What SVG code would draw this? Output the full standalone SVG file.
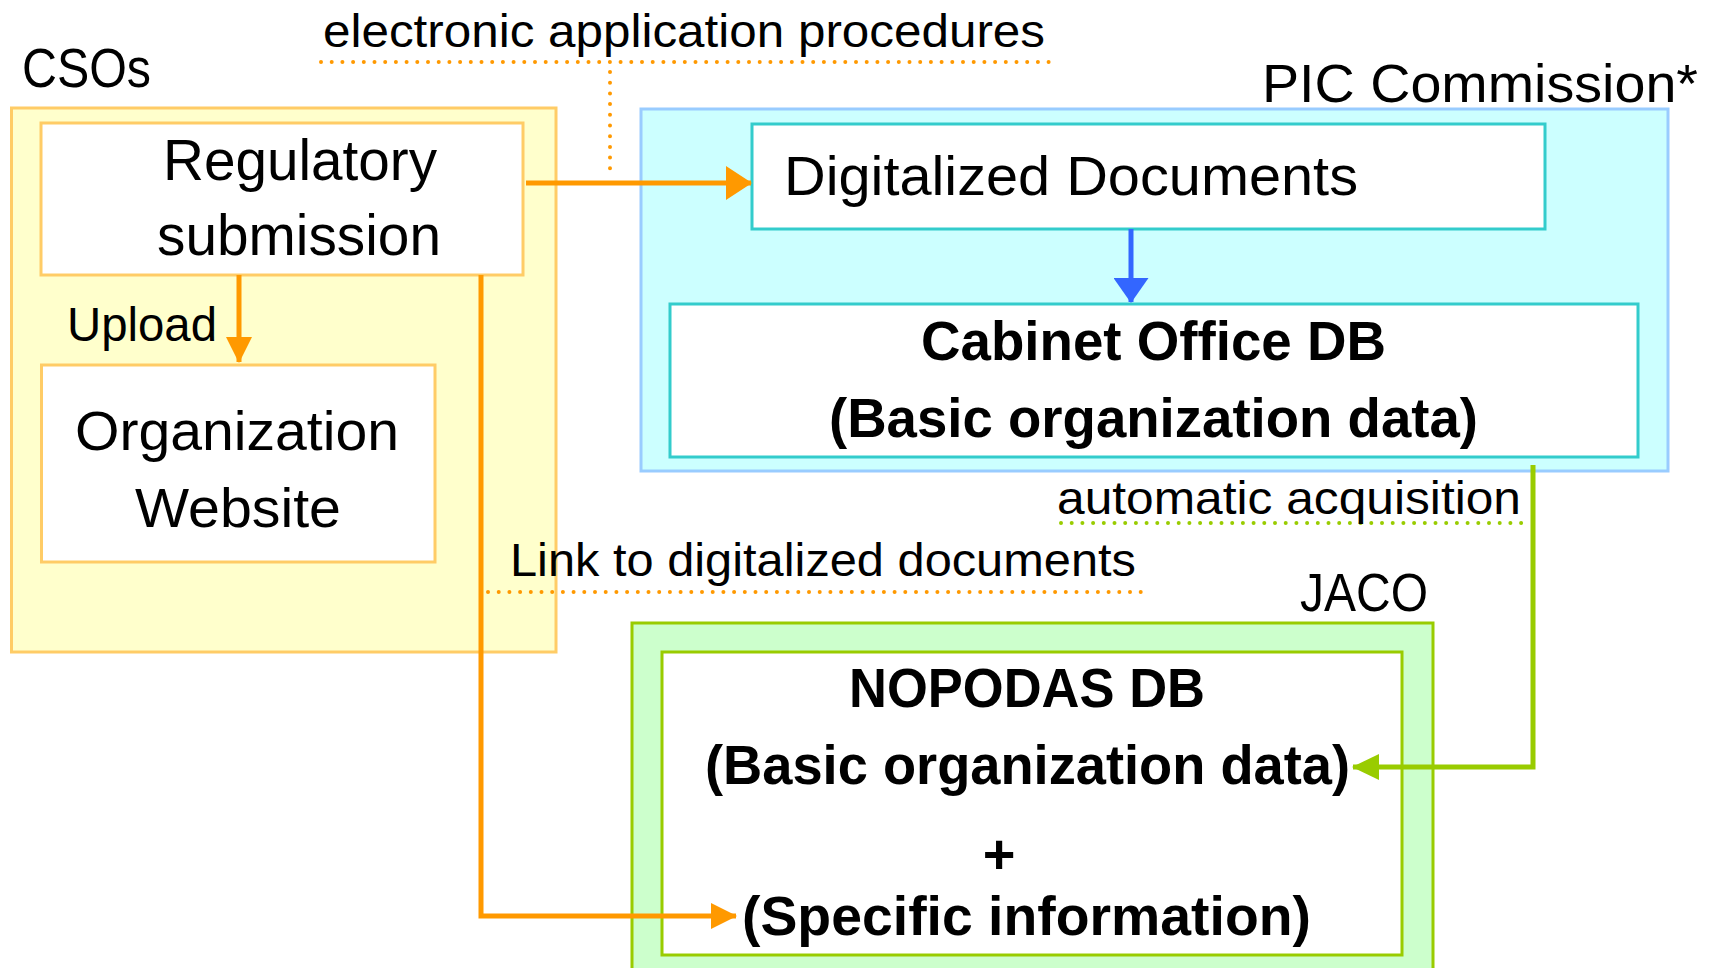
<svg xmlns="http://www.w3.org/2000/svg" width="1711" height="968" viewBox="0 0 1711 968">
<style>
text{font-family:"Liberation Sans","DejaVu Sans",sans-serif;fill:#000}
.b{font-weight:bold}
.box{stroke-width:3}
.or{fill:none;stroke:#FF9900;stroke-width:5}
.gr{fill:none;stroke:#99CC00;stroke-width:5}
.bl{fill:none;stroke:#3366FF;stroke-width:5}
.dot{fill:none;stroke-width:4;stroke-linecap:round;stroke-dasharray:0 10.7}
</style>
<defs>
<marker id="aO" markerUnits="userSpaceOnUse" markerWidth="26" markerHeight="26" refX="25" refY="13" orient="auto"><path d="M0,0 L26,13 L0,26 z" fill="#FF9900"/></marker>
<marker id="aO2" markerUnits="userSpaceOnUse" markerWidth="26" markerHeight="34" refX="25" refY="17" orient="auto"><path d="M0,0 L26,17 L0,34 z" fill="#FF9900"/></marker>
<marker id="aG" markerUnits="userSpaceOnUse" markerWidth="27" markerHeight="26" refX="26" refY="13" orient="auto"><path d="M0,0 L27,13 L0,26 z" fill="#99CC00"/></marker>
<marker id="aB" markerUnits="userSpaceOnUse" markerWidth="25" markerHeight="35" refX="24" refY="17.5" orient="auto"><path d="M0,0 L25,17.5 L0,35 z" fill="#3366FF"/></marker>
</defs>
<rect width="1711" height="968" fill="#fff"/>

<g id="csos">
<rect class="box" x="11.5" y="108" width="544.5" height="544" fill="#FFFFCC" stroke="#FFCC66"/>
<text x="22" y="87" font-size="55" textLength="129" lengthAdjust="spacingAndGlyphs">CSOs</text>
</g>
<g id="regulatory">
<rect class="box" x="41" y="123" width="482" height="152" fill="#fff" stroke="#FFCC66"/>
<text x="163" y="180" font-size="57" textLength="274" lengthAdjust="spacingAndGlyphs">Regulatory</text>
<text x="157" y="255" font-size="57" textLength="284" lengthAdjust="spacingAndGlyphs">submission</text>
</g>
<g id="website">
<rect class="box" x="41.5" y="365" width="393.5" height="197" fill="#fff" stroke="#FFCC66"/>
<text x="75" y="450" font-size="56" textLength="324" lengthAdjust="spacingAndGlyphs">Organization</text>
<text x="135" y="527" font-size="56" textLength="206" lengthAdjust="spacingAndGlyphs">Website</text>
</g>
<g id="pic">
<rect class="box" x="641" y="109" width="1027" height="362" fill="#CCFFFF" stroke="#99CCFF"/>
<text x="1262" y="102" font-size="54" textLength="436" lengthAdjust="spacingAndGlyphs">PIC Commission*</text>
</g>
<g id="digitalized">
<rect class="box" x="752" y="124" width="793" height="105" fill="#fff" stroke="#33CCCC"/>
<text x="784" y="195" font-size="56" textLength="574" lengthAdjust="spacingAndGlyphs">Digitalized Documents</text>
</g>
<g id="cabinet">
<rect class="box" x="670" y="304" width="968" height="153" fill="#fff" stroke="#33CCCC"/>
<text class="b" x="921" y="360" font-size="56" textLength="465" lengthAdjust="spacingAndGlyphs">Cabinet Office DB</text>
<text class="b" x="829" y="437" font-size="56" textLength="649" lengthAdjust="spacingAndGlyphs">(Basic organization data)</text>
</g>
<g id="jaco">
<rect class="box" x="632" y="623" width="801" height="360" fill="#CCFFCC" stroke="#99CC00"/>
<text x="1300" y="611" font-size="53" textLength="128" lengthAdjust="spacingAndGlyphs">JACO</text>
</g>
<g id="nopodas">
<rect class="box" x="662" y="652" width="740" height="303" fill="#fff" stroke="#99CC00"/>
<text class="b" x="849" y="707" font-size="56" textLength="356" lengthAdjust="spacingAndGlyphs">NOPODAS DB</text>
<text class="b" x="705" y="784" font-size="56" textLength="645" lengthAdjust="spacingAndGlyphs">(Basic organization data)</text>
<text class="b" x="999" y="873" font-size="56" text-anchor="middle">+</text>
<text class="b" x="742" y="935" font-size="56" textLength="569" lengthAdjust="spacingAndGlyphs">(Specific information)</text>
</g>

<g id="connectors">
<path class="or" d="M526,183 L751,183" marker-end="url(#aO2)"/>
<path class="or" d="M239,275 L239,362" marker-end="url(#aO)"/>
<path class="or" d="M481,275 L481,916 L736,916" marker-end="url(#aO)"/>
<path class="bl" d="M1131,229 L1131,302" marker-end="url(#aB)"/>
<path class="gr" d="M1533,465 L1533,767 L1353,767" marker-end="url(#aG)"/>
<path class="dot" stroke="#FF9900" d="M321,62 L1056,62"/>
<path class="dot" stroke="#FF9900" d="M610,72 L610,178"/>
<path class="dot" stroke="#FF9900" d="M488,592 L1146,592"/>
<path class="dot" stroke="#99CC00" d="M1061,523 L1523,523"/>
<text x="323" y="47" font-size="46" textLength="722" lengthAdjust="spacingAndGlyphs">electronic application procedures</text>
<text x="67" y="341" font-size="48" textLength="150" lengthAdjust="spacingAndGlyphs">Upload</text>
<text x="510" y="576" font-size="46" textLength="626" lengthAdjust="spacingAndGlyphs">Link to digitalized documents</text>
<text x="1057" y="514" font-size="46" textLength="464" lengthAdjust="spacingAndGlyphs">automatic acquisition</text>
</g>
</svg>
